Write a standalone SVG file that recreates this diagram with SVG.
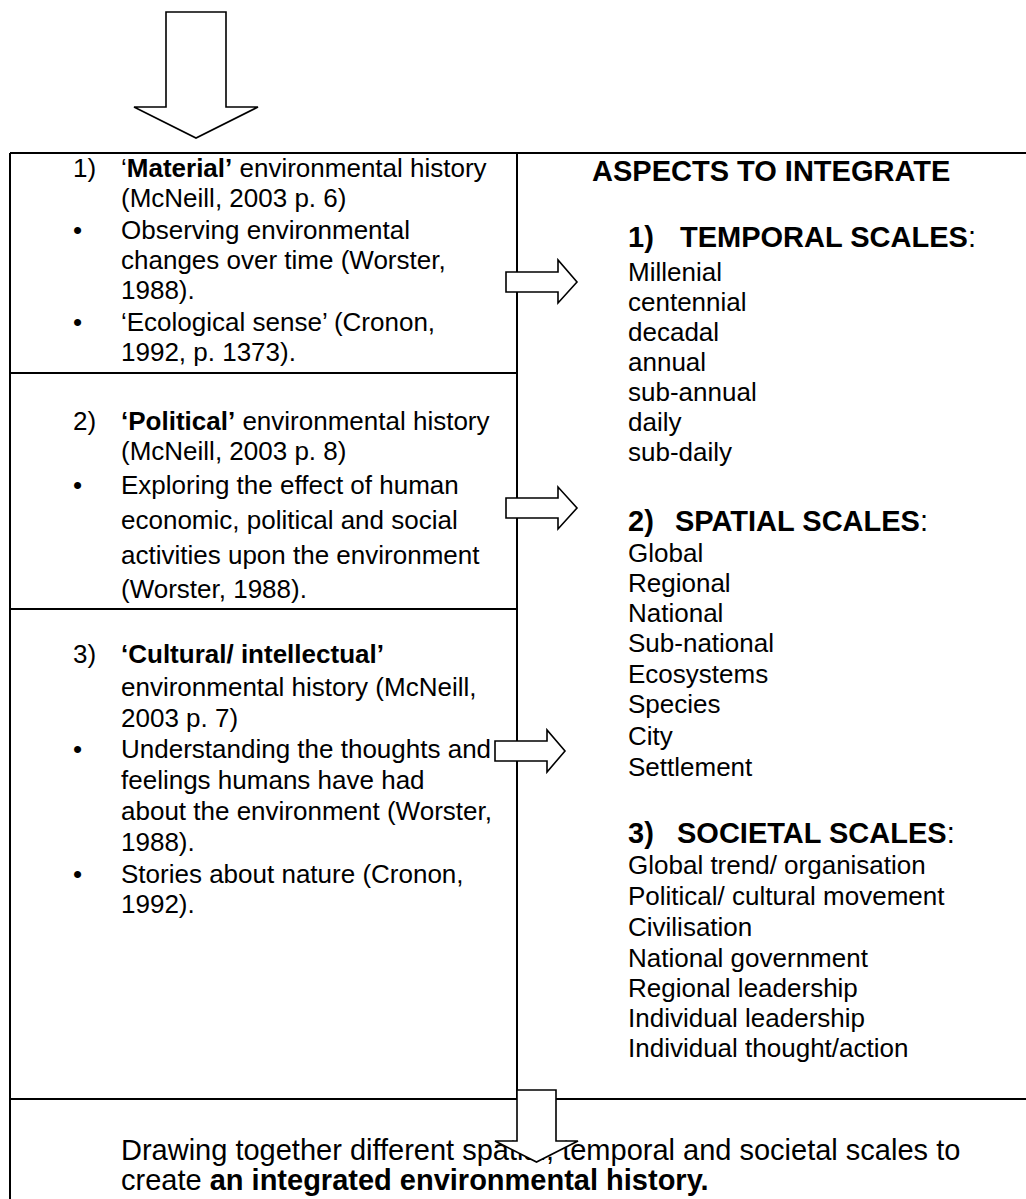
<svg xmlns="http://www.w3.org/2000/svg" width="1026" height="1199" viewBox="0 0 1026 1199">
<style>
.t{font-family:"Liberation Sans",Arial,sans-serif;font-size:26px;fill:#000}
.h{font-family:"Liberation Sans",Arial,sans-serif;font-size:29px;font-weight:bold;fill:#000}
.big{font-family:"Liberation Sans",Arial,sans-serif;font-size:29px;fill:#000}
.b{font-weight:bold}
.n{font-weight:normal}
.ln{stroke:#000;stroke-width:2;fill:none}
.arr{fill:#fff;stroke:#000;stroke-width:1.6;stroke-linejoin:miter}
</style>
<rect width="1026" height="1199" fill="#fff"/>
<g id="frame">
<line class="ln" x1="10" y1="153" x2="1026" y2="153"/>
<line class="ln" x1="10" y1="153" x2="10" y2="1199"/>
<line class="ln" x1="517" y1="153" x2="517" y2="1099"/>
<line class="ln" x1="10" y1="373" x2="517" y2="373"/>
<line class="ln" x1="10" y1="609" x2="517" y2="609"/>
<line class="ln" x1="10" y1="1099" x2="1026" y2="1099"/>
</g>
<g id="material">
<text class="t" x="73" y="177">1)</text>
<text class="t" x="121" y="177">‘<tspan class="b">Material’</tspan> environmental history</text>
<text class="t" x="121" y="207">(McNeill, 2003 p. 6)</text>
<text class="t" x="73" y="239">•</text>
<text class="t" x="121" y="239">Observing environmental</text>
<text class="t" x="121" y="269">changes over time (Worster,</text>
<text class="t" x="121" y="299">1988).</text>
<text class="t" x="73" y="331">•</text>
<text class="t" x="121" y="331">‘Ecological sense’ (Cronon,</text>
<text class="t" x="121" y="361">1992, p. 1373).</text>
</g>
<g id="political">
<text class="t" x="73" y="430">2)</text>
<text class="t" x="121" y="430"><tspan class="b">‘Political’</tspan> environmental history</text>
<text class="t" x="121" y="460">(McNeill, 2003 p. 8)</text>
<text class="t" x="73" y="494">•</text>
<text class="t" x="121" y="494">Exploring the effect of human</text>
<text class="t" x="121" y="529">economic, political and social</text>
<text class="t" x="121" y="564">activities upon the environment</text>
<text class="t" x="121" y="598">(Worster, 1988).</text>
</g>
<g id="cultural">
<text class="t" x="73" y="663">3)</text>
<text class="t b" x="121" y="663">‘Cultural/ intellectual’</text>
<text class="t" x="121" y="696">environmental history (McNeill,</text>
<text class="t" x="121" y="727">2003 p. 7)</text>
<text class="t" x="73" y="758">•</text>
<text class="t" x="121" y="758">Understanding the thoughts and</text>
<text class="t" x="121" y="789">feelings humans have had</text>
<text class="t" x="121" y="820">about the environment (Worster,</text>
<text class="t" x="121" y="851">1988).</text>
<text class="t" x="73" y="883">•</text>
<text class="t" x="121" y="883">Stories about nature (Cronon,</text>
<text class="t" x="121" y="913">1992).</text>
</g>
<g id="aspects">
<text class="h" x="592" y="181">ASPECTS TO INTEGRATE</text>
<text class="h" x="628" y="247">1)</text>
<text class="h" x="680" y="247">TEMPORAL SCALES<tspan class="n">:</tspan></text>
<text class="t" x="628" y="281">Millenial</text>
<text class="t" x="628" y="311">centennial</text>
<text class="t" x="628" y="341">decadal</text>
<text class="t" x="628" y="371">annual</text>
<text class="t" x="628" y="401">sub-annual</text>
<text class="t" x="628" y="431">daily</text>
<text class="t" x="628" y="461">sub-daily</text>
<text class="h" x="628" y="531">2)</text>
<text class="h" x="675" y="531">SPATIAL SCALES<tspan class="n">:</tspan></text>
<text class="t" x="628" y="562">Global</text>
<text class="t" x="628" y="592">Regional</text>
<text class="t" x="628" y="622">National</text>
<text class="t" x="628" y="652">Sub-national</text>
<text class="t" x="628" y="683">Ecosystems</text>
<text class="t" x="628" y="713">Species</text>
<text class="t" x="628" y="745">City</text>
<text class="t" x="628" y="776">Settlement</text>
<text class="h" x="628" y="843">3)</text>
<text class="h" x="677" y="843">SOCIETAL SCALES<tspan class="n">:</tspan></text>
<text class="t" x="628" y="874">Global trend/ organisation</text>
<text class="t" x="628" y="905">Political/ cultural movement</text>
<text class="t" x="628" y="936">Civilisation</text>
<text class="t" x="628" y="967">National government</text>
<text class="t" x="628" y="997">Regional leadership</text>
<text class="t" x="628" y="1027">Individual leadership</text>
<text class="t" x="628" y="1057">Individual thought/action</text>
</g>
<g id="outcome">
<text class="big" x="121" y="1160">Drawing together different spatial, temporal and societal scales to</text>
<text class="big" x="121" y="1190">create <tspan class="b">an integrated environmental history.</tspan></text>
</g>
<g id="connectors">
<polygon class="arr" points="166,12 226,12 226,107 258,107 196,138 134,107 166,107"/>
<polygon class="arr" points="506,272 558,272 558,260 577,282 558,303 558,292 506,292"/>
<polygon class="arr" points="506,498 558,498 558,487 577,508 558,529 558,518 506,518"/>
<polygon class="arr" points="495,741 547,741 547,730 565,751 547,772 547,761 495,761"/>
<polygon class="arr" points="517,1090 556,1090 556,1141 578,1141 536.5,1162 495,1141 517,1141"/>
</g>
</svg>
